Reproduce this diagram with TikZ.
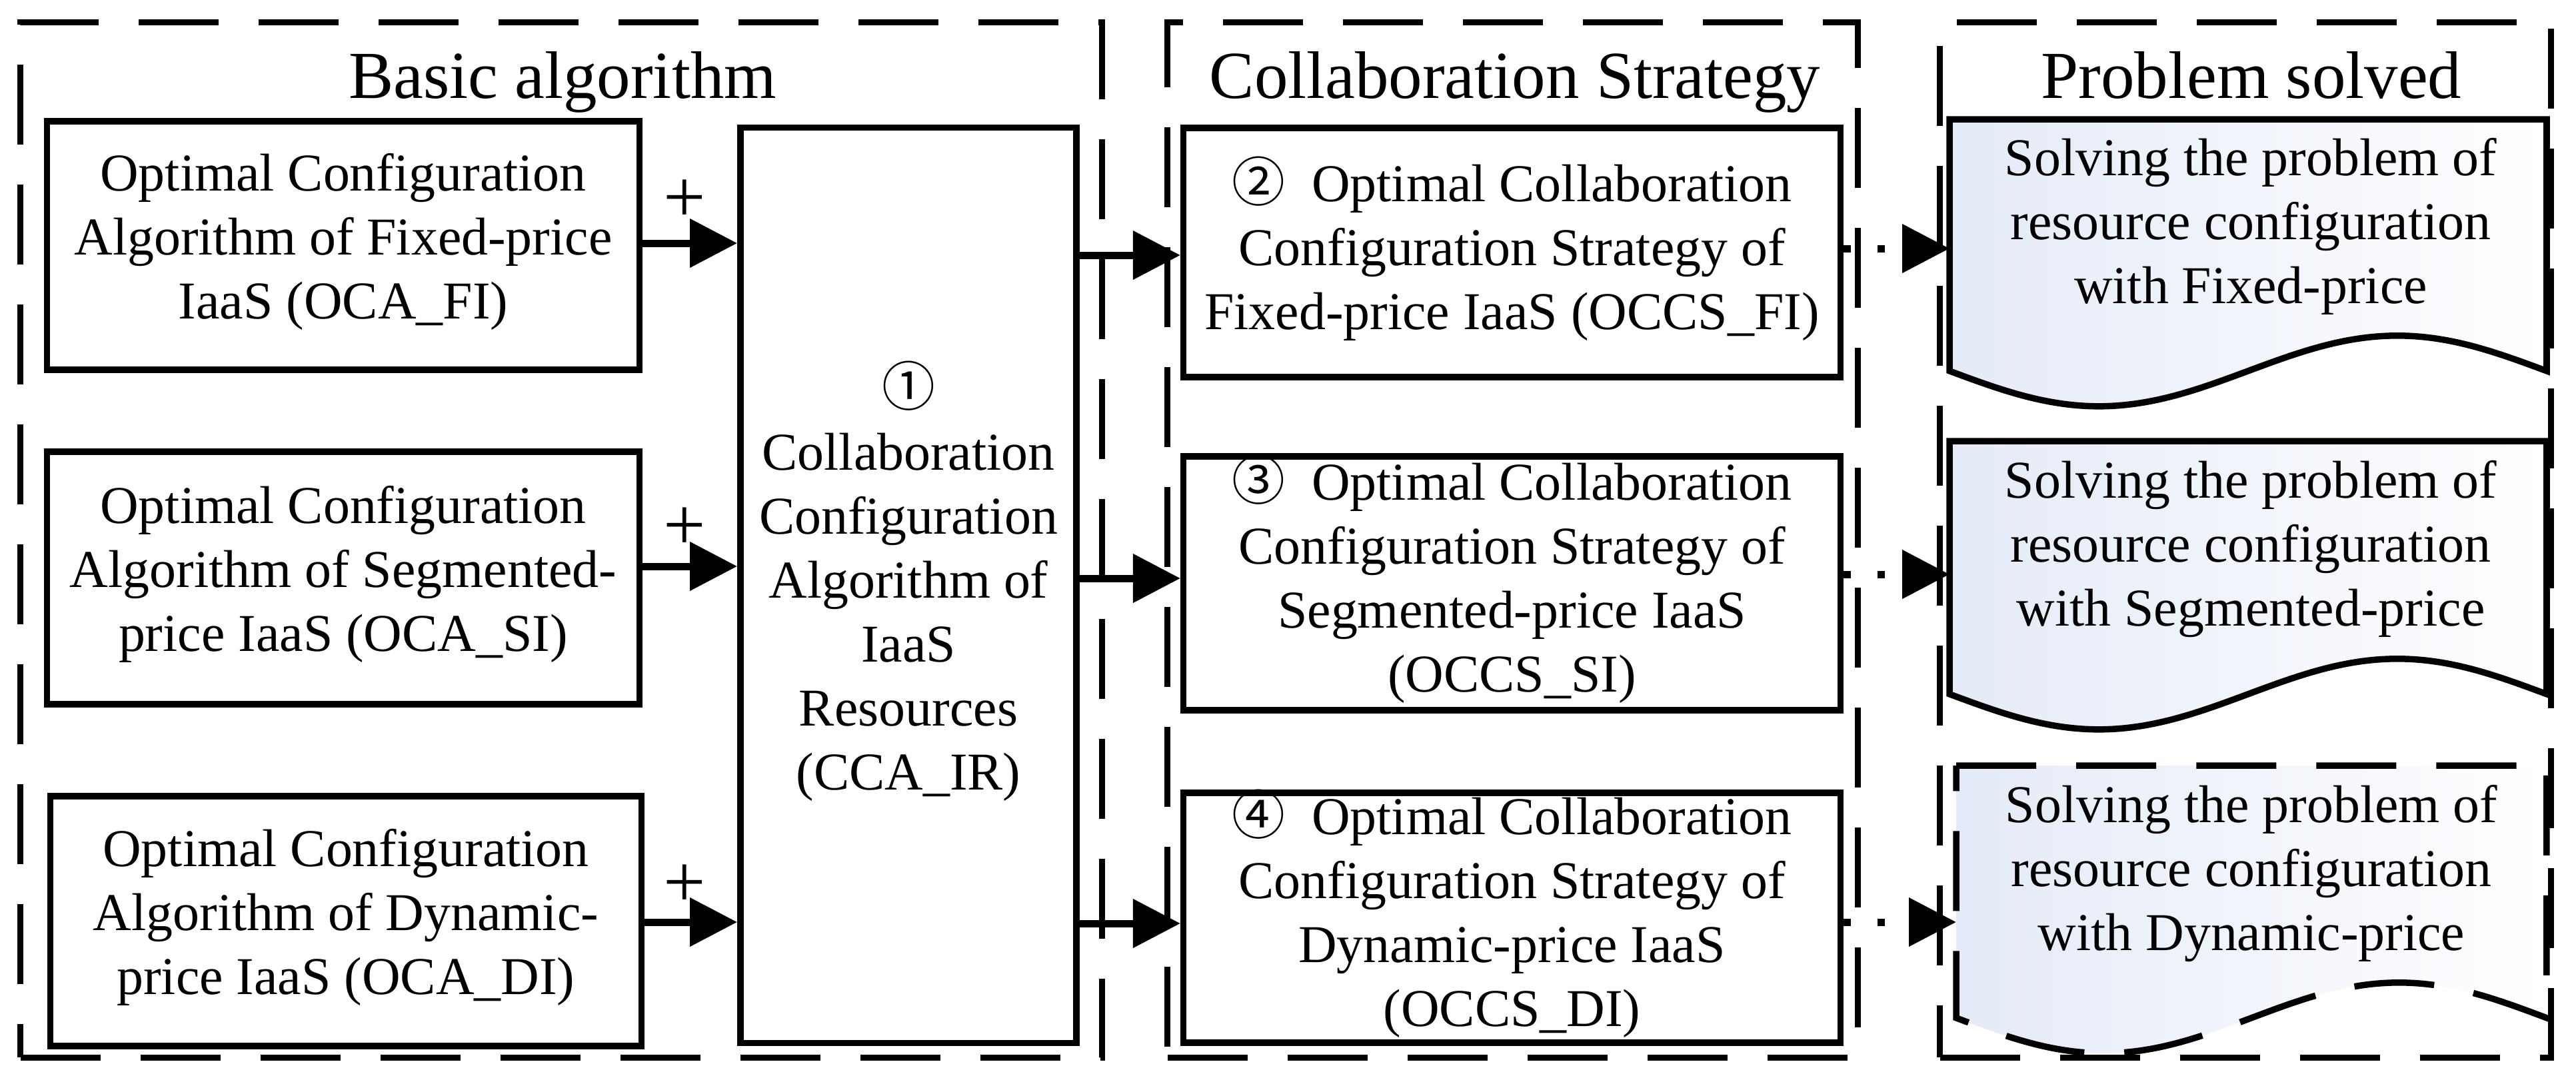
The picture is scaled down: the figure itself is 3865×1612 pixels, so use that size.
\documentclass[tikz,border=0pt]{standalone}
\usepackage{fontspec}
\setmainfont{Liberation Serif}
\newfontfamily\cjk{Noto Sans CJK SC}
\usetikzlibrary{arrows.meta,calc}
\definecolor{docfill}{RGB}{228,234,247}
\newcommand{\bodyfont}{\fontsize{22.7pt}{27.3pt}\selectfont}
\newcommand{\titlefont}{\fontsize{28.7pt}{34pt}\selectfont}
\newcommand{\circnum}[1]{{\cjk #1}}
\newcommand{\drawdoc}[2][]{%
  \path[docstyle,#1] (#2.north west) -- (#2.north east) -- (#2.south east)
    sin ($(#2.south east)!0.25!(#2.south west)+(0,-53)$)
    cos ($(#2.south east)!0.5!(#2.south west)$)
    sin ($(#2.south east)!0.75!(#2.south west)+(0,53)$)
    cos (#2.south west) -- cycle;}
\begin{document}
\begin{tikzpicture}[x=0.01cm,y=-0.01cm,
  groupbox/.style={draw, line width=0.09cm, dash pattern=on 1.2cm off 0.6cm, inner sep=0pt},
  titletext/.style={font=\titlefont, anchor=base, inner sep=0pt},
  algbox/.style={draw, line width=0.095cm, font=\bodyfont, align=center,
    inner xsep=0.05cm, inner ysep=-0.3cm,
    execute at begin node=\strut, execute at end node=\strut},
  plussign/.style={font=\fontsize{32pt}{32pt}\selectfont, inner sep=0pt},
  arr/.style={line width=0.11cm, -{Triangle[length=0.71cm,width=0.71cm]}},
  dotarr/.style={line width=0.11cm, dash pattern=on 0.11cm off 0.4cm,
    -{Triangle[length=0.71cm,width=0.71cm]}},
  docarea/.style={inner sep=0pt},
  docstyle/.style={draw, line width=0.095cm, left color=docfill, right color=white},
  doctext/.style={font=\bodyfont, align=center, inner sep=0pt,
    execute at begin node=\strut, execute at end node=\strut}
]
\path[use as bounding box, fill=white] (0,0) rectangle (3865,1612);

% group frames
\node[groupbox, minimum width=16.22cm, minimum height=15.53cm] (gA) at (842,810.5) {};
\node[groupbox, minimum width=10.35cm, minimum height=15.53cm] (gB) at (2269.5,810.5) {};
\node[groupbox, minimum width=9.16cm, minimum height=15.53cm] (gC) at (3369,810.5) {};

\node[titletext] (tA) at (844,147) {Basic algorithm};
\node[titletext] (tB) at (2273,147) {Collaboration Strategy};
\node[titletext] (tC) at (3378,147) {Problem solved};

% basic algorithms
\node[algbox, minimum width=8.88cm, minimum height=3.73cm] (b1) at (515,368.5)
  {Optimal Configuration\\Algorithm of Fixed-price\\IaaS (OCA\_FI)};
\node[algbox, minimum width=8.88cm, minimum height=3.79cm] (b2) at (515,867.5)
  {Optimal Configuration\\Algorithm of Segmented-\\price IaaS (OCA\_SI)};
\node[algbox, minimum width=8.86cm, minimum height=3.75cm] (b3) at (519,1382.5)
  {Optimal Configuration\\Algorithm of Dynamic-\\price IaaS (OCA\_DI)};

\node[algbox, minimum width=5.04cm, minimum height=13.73cm] (cca) at (1363,878.5)
  {\circnum{①}\\Collaboration\\Configuration\\Algorithm of\\IaaS\\Resources\\(CCA\_IR)};

% strategies
\node[algbox, minimum width=9.85cm, minimum height=3.74cm] (s2) at (2268.5,379)
  {\circnum{②}\enspace Optimal Collaboration\\Configuration Strategy of\\Fixed-price IaaS (OCCS\_FI)};
\node[algbox, minimum width=9.85cm, minimum height=3.81cm] (s3) at (2268.5,875.5)
  {\circnum{③}\enspace Optimal Collaboration\\Configuration Strategy of\\Segmented-price IaaS\\(OCCS\_SI)};
\node[algbox, minimum width=9.85cm, minimum height=3.75cm] (s4) at (2268.5,1377.5)
  {\circnum{④}\enspace Optimal Collaboration\\Configuration Strategy of\\Dynamic-price IaaS\\(OCCS\_DI)};

% problems solved (document shapes)
\node[docarea, minimum width=8.94cm, minimum height=3.76cm] (d1) at (3373,368) {};
\node[docarea, minimum width=8.94cm, minimum height=3.78cm] (d2) at (3373,852) {};
\node[docarea, minimum width=8.84cm, minimum height=3.77cm] (d3) at (3378,1338.5) {};
\drawdoc{d1}
\drawdoc{d2}
\drawdoc[dash pattern=on 1.2cm off 0.6cm]{d3}
\node[doctext] (d1t) at ($(d1)+(4,-22)$) {Solving the problem of\\resource configuration\\with Fixed-price};
\node[doctext] (d2t) at ($(d2)+(4,-22)$) {Solving the problem of\\resource configuration\\with Segmented-price};
\node[doctext] (d3t) at ($(d3)+(0,-22)$) {Solving the problem of\\resource configuration\\with Dynamic-price};

% plus signs
\node[plussign] (p1) at (1027,302) {+};
\node[plussign] (p2) at (1027,794) {+};
\node[plussign] (p3) at (1027,1330) {+};

% connectors
\draw[arr] (b1.east |- 0,365) -- (cca.west |- 0,365);
\draw[arr] (b2.east |- 0,850) -- (cca.west |- 0,850);
\draw[arr] (b3.east |- 0,1384) -- (cca.west |- 0,1384);
\draw[arr] (cca.east |- 0,383) -- (s2.west |- 0,383);
\draw[arr] (cca.east |- 0,868) -- (s3.west |- 0,868);
\draw[arr] (cca.east |- 0,1386) -- (s4.west |- 0,1386);
\draw[dotarr] (s2.east |- 0,373) -- (d1.west |- 0,373);
\draw[dotarr] (s3.east |- 0,862) -- (d2.west |- 0,862);
\draw[dotarr] (s4.east |- 0,1384) -- (d3.west |- 0,1384);
\end{tikzpicture}
\end{document}
